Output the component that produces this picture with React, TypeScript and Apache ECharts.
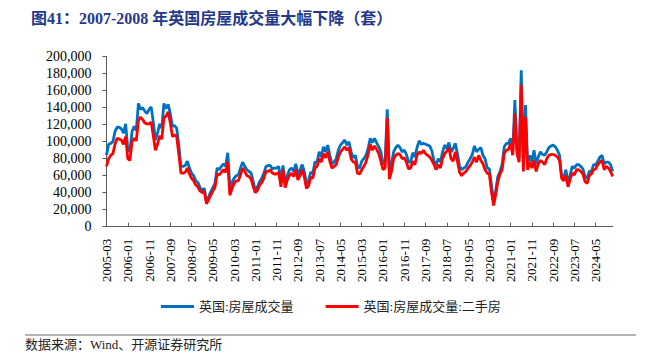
import React, { useEffect, useRef } from "react";
import * as echarts from "echarts";

const startYear = 2005;
const startMonth = 3;
const monthCount = 239;
const categories: string[] = [];
for (let i = 0; i < monthCount; i++) {
  const t = startMonth - 1 + i;
  const y = startYear + Math.floor(t / 12);
  const m = (t % 12) + 1;
  categories.push(`${y}-${m < 10 ? "0" + m : m}`);
}

const seriesNames = ["英国:房屋成交量", "英国:房屋成交量:二手房"];

const totalValues = [
  84000, 97000, 98000, 100000, 112000, 117000, 117000, 115000, 110000, 121000,
  92000, 88000, 112000, 118000, 113000, 145000, 138000, 140000, 136000, 133000,
  138000, 141000, 123000, 102000, 110000, 121000, 116000, 145000, 139000, 144000,
  133000, 118000, 119000, 116000, 96000, 71000, 71000, 72000, 77000, 69000,
  63000, 60000, 54000, 52000, 46000, 43000, 45000, 29000, 35000, 41000,
  46000, 51000, 69000, 67000, 71000, 74000, 71000, 87000, 46000, 52000,
  57000, 60000, 61000, 69000, 76000, 71000, 67000, 65000, 63000, 53000,
  42000, 47000, 53000, 57000, 63000, 71000, 72000, 72000, 68000, 69000,
  69000, 71000, 53000, 72000, 51000, 60000, 67000, 69000, 65000, 74000,
  61000, 67000, 73000, 65000, 51000, 54000, 64000, 63000, 76000, 76000,
  88000, 82000, 94000, 88000, 96000, 84000, 74000, 76000, 80000, 90000,
  96000, 99000, 102000, 96000, 100000, 88000, 81000, 84000, 71000, 69000,
  77000, 80000, 84000, 92000, 104000, 99000, 104000, 99000, 94000, 88000,
  74000, 76000, 138000, 67000, 74000, 88000, 93000, 96000, 93000, 88000,
  90000, 85000, 76000, 76000, 87000, 82000, 93000, 101000, 97000, 98000,
  97000, 96000, 95000, 89000, 77000, 73000, 80000, 76000, 88000, 96000,
  92000, 99000, 88000, 92000, 98000, 86000, 71000, 67000, 69000, 71000,
  76000, 80000, 85000, 95000, 88000, 91000, 93000, 84000, 80000, 69000,
  68000, 49000, 29000, 43000, 59000, 65000, 73000, 94000, 98000, 98000,
  104000, 88000, 149000, 90000, 80000, 184000, 71000, 143000, 74000, 84000,
  76000, 90000, 74000, 82000, 88000, 85000, 84000, 88000, 93000, 95000,
  96000, 94000, 90000, 84000, 59000, 58000, 67000, 51000, 61000, 71000,
  69000, 73000, 73000, 71000, 68000, 59000, 57000, 65000, 65000, 73000,
  73000, 77000, 82000, 84000, 74000, 76000, 76000, 73000, 65000,
];

const secondHandValues = [
  71000, 80000, 84000, 86000, 97000, 104000, 103000, 102000, 97000, 106000,
  80000, 78000, 100000, 104000, 101000, 125000, 129000, 126000, 122000, 121000,
  121000, 123000, 107000, 90000, 97000, 107000, 103000, 128000, 130000, 135000,
  122000, 106000, 108000, 106000, 85000, 63000, 63000, 64000, 69000, 62000,
  57000, 54000, 49000, 47000, 42000, 40000, 41000, 27000, 32000, 37000,
  42000, 46000, 62000, 61000, 64000, 67000, 64000, 76000, 37000, 45000,
  51000, 54000, 54000, 61000, 69000, 65000, 60000, 59000, 56000, 47000,
  40000, 43000, 49000, 52000, 57000, 65000, 65000, 67000, 63000, 62000,
  62000, 64000, 47000, 67000, 46000, 55000, 60000, 63000, 59000, 67000,
  55000, 60000, 67000, 59000, 45000, 48000, 58000, 57000, 69000, 71000,
  80000, 76000, 86000, 81000, 88000, 77000, 69000, 71000, 73000, 82000,
  88000, 91000, 94000, 90000, 93000, 80000, 76000, 76000, 63000, 62000,
  67000, 71000, 76000, 85000, 97000, 90000, 95000, 91000, 86000, 77000,
  67000, 69000, 128000, 56000, 65000, 80000, 84000, 86000, 85000, 80000,
  81000, 76000, 68000, 69000, 77000, 73000, 84000, 88000, 86000, 90000,
  86000, 84000, 82000, 78000, 73000, 67000, 73000, 69000, 80000, 86000,
  89000, 93000, 80000, 77000, 88000, 77000, 64000, 60000, 63000, 65000,
  69000, 72000, 76000, 82000, 76000, 84000, 78000, 74000, 67000, 63000,
  62000, 41000, 25000, 38000, 53000, 62000, 67000, 86000, 90000, 91000,
  98000, 84000, 133000, 86000, 76000, 167000, 65000, 129000, 67000, 76000,
  69000, 78000, 65000, 74000, 78000, 76000, 73000, 80000, 84000, 85000,
  85000, 84000, 82000, 78000, 57000, 54000, 60000, 47000, 56000, 63000,
  61000, 67000, 67000, 65000, 62000, 53000, 51000, 60000, 62000, 67000,
  68000, 73000, 76000, 78000, 67000, 71000, 69000, 65000, 59000,
];

const titleText = "图41：2007-2008 年英国房屋成交量大幅下降（套）";
const sourceText = "数据来源：Wind、开源证券研究所";

const serif = "'Liberation Serif', 'Noto Sans CJK SC', serif";

export default function App() {
  const ref = useRef<HTMLDivElement>(null);
  useEffect(() => {
    if (!ref.current) return;
    const chart = echarts.init(ref.current, undefined, { renderer: "svg" });
    chart.setOption({
      animation: false,
      backgroundColor: "#ffffff",
      title: {
        text: titleText,
        left: 26,
        top: 5,
        textStyle: {
          fontFamily: serif,
          fontWeight: "bold",
          fontSize: 16,
          color: "#25398a",
        },
      },
      grid: { left: 106.5, right: 47.3, top: 56.7, bottom: 136.3 },
      legend: {
        left: 156,
        top: 295,
        icon: "rect",
        itemWidth: 33,
        itemHeight: 3,
        itemGap: 32,
        textStyle: { fontFamily: serif, fontSize: 13, color: "#222" },
        data: seriesNames,
      },
      xAxis: {
        type: "category",
        data: categories,
        boundaryGap: false,
        axisLine: { lineStyle: { color: "#595959", width: 1 } },
        axisTick: {
          inside: true,
          length: 4,
          interval: 9,
          lineStyle: { color: "#595959" },
        },
        axisLabel: {
          interval: 9,
          rotate: 90,
          margin: 12,
          fontFamily: serif,
          fontSize: 13,
          color: "#000",
        },
        splitLine: { show: false },
      },
      yAxis: {
        type: "value",
        min: 0,
        max: 200000,
        interval: 20000,
        axisLine: { show: true, lineStyle: { color: "#595959", width: 1 } },
        axisTick: { show: true, length: 4, lineStyle: { color: "#595959" } },
        axisLabel: {
          margin: 15,
          fontFamily: serif,
          fontSize: 14,
          color: "#000",
          formatter: (v: number) => v.toLocaleString("en-US"),
        },
        splitLine: { show: false },
      },
      series: [
        {
          name: seriesNames[0],
          type: "line",
          data: totalValues,
          symbol: "none",
          lineStyle: { color: "#0070c0", width: 2.8 },
          itemStyle: { color: "#0070c0" },
        },
        {
          name: seriesNames[1],
          type: "line",
          data: secondHandValues,
          symbol: "none",
          lineStyle: { color: "#ff0000", width: 2.8 },
          itemStyle: { color: "#ff0000" },
        },
      ],
      graphic: [
        {
          type: "line",
          shape: { x1: 25, y1: 335, x2: 636, y2: 335 },
          style: { stroke: "#9a9a9a", lineWidth: 1.5 },
        },
        {
          type: "text",
          left: 25,
          top: 338,
          style: {
            text: sourceText,
            fontFamily: serif,
            fontSize: 13,
            fill: "#222",
          },
        },
      ],
    });
    return () => chart.dispose();
  }, []);
  return <div ref={ref} style={{ width: 660, height: 363, margin: -8 }} />;
}
